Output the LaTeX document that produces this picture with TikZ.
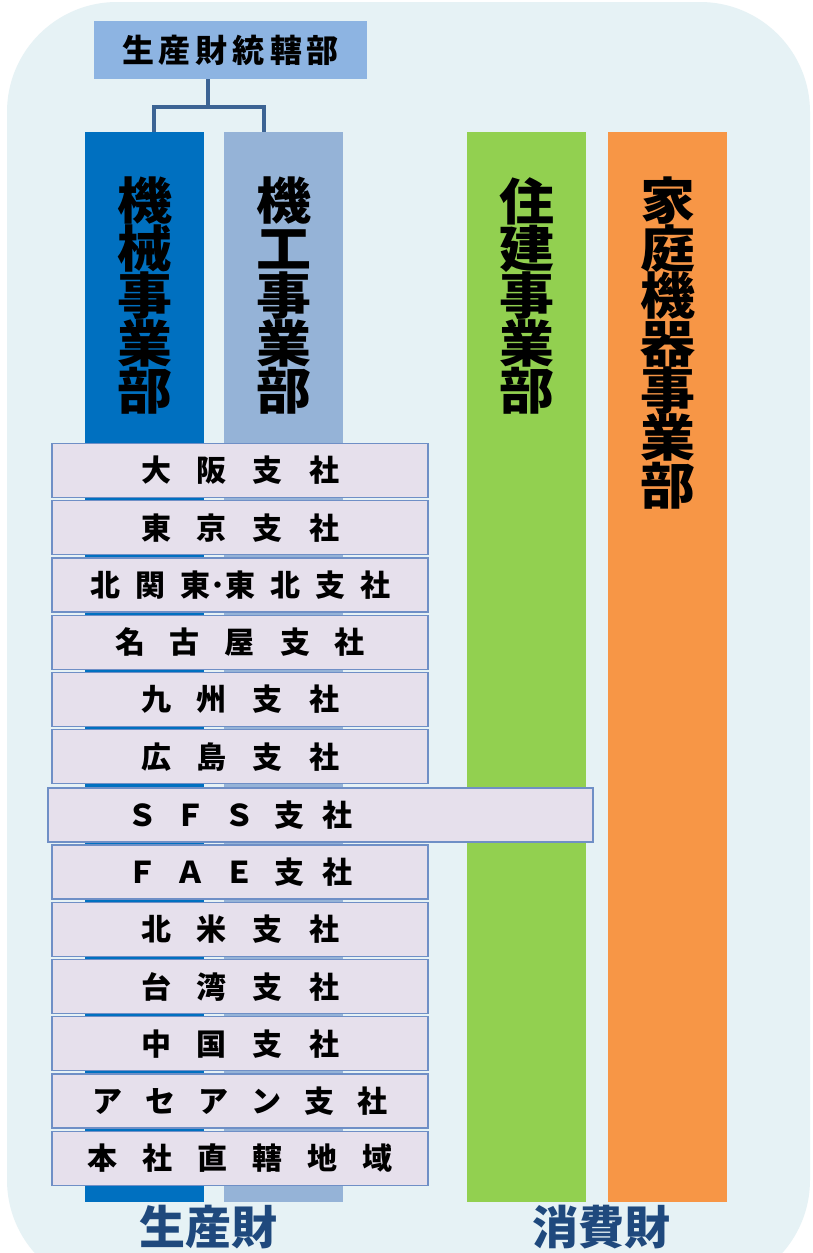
\documentclass[tikz,border=0pt]{standalone}
\usepackage{fontspec}
\setmainfont{Noto Sans CJK JP}
\usetikzlibrary{calc}
\definecolor{bgc}{HTML}{E6F2F5}
\definecolor{topc}{HTML}{8DB4E2}
\definecolor{connc}{HTML}{3C6494}
\definecolor{colA}{HTML}{0070C0}
\definecolor{colB}{HTML}{95B3D7}
\definecolor{colC}{HTML}{92D050}
\definecolor{colD}{HTML}{F79646}
\definecolor{rowfill}{HTML}{E6E0EC}
\definecolor{rowline}{HTML}{6F8FC6}
\definecolor{navy}{HTML}{1F497D}
\newlength\rgap
\newcommand\G{\hspace{\rgap}}
\newcommand\rtxt[2]{\setlength\rgap{#1pt}#2}
\newcommand\colfont{\fontsize{50}{47.4}\selectfont\bfseries\addfontfeature{FakeStretch=1.1}\lineskiplimit=-100pt\relax}
\begin{document}
\begin{tikzpicture}[x=1pt,y=-1pt,
  colbox/.style={draw=none, minimum width=119pt, minimum height=1070pt, anchor=north west, inner sep=0pt},
  coltext/.style={anchor=north, align=center, inner sep=0pt, font=\colfont},
  rowbox/.style={draw=rowline, line width=1.3pt, fill=rowfill, minimum width=376pt, minimum height=54pt, inner sep=0pt, font=\fontsize{30}{30}\selectfont\bfseries},
  rowtext/.style={inner sep=0pt, font=\fontsize{30}{30}\selectfont\bfseries},
  conn/.style={draw=connc, line width=3.5pt},
  bottomlabel/.style={text=navy, inner sep=0pt, font=\fontsize{46}{46}\selectfont\bfseries}]
\useasboundingbox (0,0) rectangle (812,1253);
\fill[white] (0,0) rectangle (812,1253);
\fill[bgc, rounded corners=110pt] (7,2) rectangle (810,1290);
% top box
\node[fill=topc, minimum width=273pt, minimum height=58pt, inner sep=0pt,
  font=\fontsize{32}{32}\selectfont\bfseries] (top) at (230.5,50)
  {\rtxt{5}{生\G 産\G 財\G 統\G 轄\G 部}};
% columns
\node[colbox, fill=colA] (c1) at (85,132) {};
\node[colbox, fill=colB] (c2) at (224,132) {};
\node[colbox, fill=colC] (c3) at (467,132) {};
\node[colbox, fill=colD] (c4) at (608,132) {};
\node[coltext] (t1) at (c1.north |- 0,177) {機\\械\\事\\業\\部};
\node[coltext] (t2) at (c2.north |- 0,177) {機\\工\\事\\業\\部};
\node[coltext] (t3) at (c3.north |- 0,177) {住\\建\\事\\業\\部};
\node[coltext] (t4) at (c4.north |- 0,177) {家\\庭\\機\\器\\事\\業\\部};
% connector
\coordinate (j) at ($(top.south)+(-22.5,28)$);
\draw[conn] ($(top.south)+(-22.5,0)$) -- (j);
\draw[conn] ($(c1.north)+(9.5,0)$) |- (j) -| ($(c2.north)+(-19.5,0)$);
% rows
\node[rowbox] (r1) at (240,470.5) {\rtxt{26}{大\G 阪\G 支\G 社}};
\node[rowbox] (r2) at (240,527.75) {\rtxt{26}{東\G 京\G 支\G 社}};
\node[rowbox] (r3) at (240,585) {\rtxt{15}{北\G 関\G 東･東\G 北\G 支\G 社}};
\node[rowbox] (r4) at (240,642.25) {\rtxt{25}{名\G 古\G 屋\G 支\G 社}};
\node[rowbox] (r5) at (240,699.5) {\rtxt{26}{九\G 州\G 支\G 社}};
\node[rowbox] (r6) at (240,756.75) {\rtxt{26}{広\G 島\G 支\G 社}};
\node[rowbox, minimum width=545pt] (r7) at (320.5,815) {};
\node[rowtext] (r7t) at (240,815) {\rtxt{19}{Ｓ\G Ｆ\G Ｓ\G 支\G 社}};
\node[rowbox] (r8) at (240,872) {\rtxt{19}{Ｆ\G Ａ\G Ｅ\G 支\G 社}};
\node[rowbox] (r9) at (240,929.25) {\rtxt{26}{北\G 米\G 支\G 社}};
\node[rowbox] (r10) at (240,986.5) {\rtxt{26}{台\G 湾\G 支\G 社}};
\node[rowbox] (r11) at (240,1043.75) {\rtxt{26}{中\G 国\G 支\G 社}};
\node[rowbox] (r12) at (240,1101) {\rtxt{23}{ア\G セ\G ア\G ン\G 支\G 社}};
\node[rowbox] (r13) at (240,1158.25) {\rtxt{25}{本\G 社\G 直\G 轄\G 地\G 域}};
% bottom labels
\node[bottomlabel] (b1) at (208,1227) {生産財};
\node[bottomlabel] (b2) at (601,1227) {消費財};
\end{tikzpicture}
\end{document}
